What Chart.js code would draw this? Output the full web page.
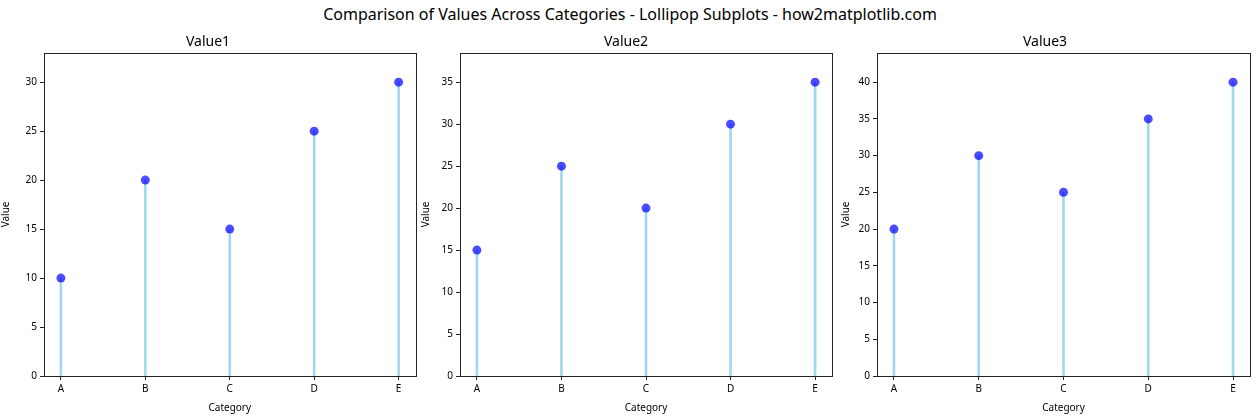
<!DOCTYPE html>
<html>
<head>
<meta charset="utf-8">
<script src="https://cdn.jsdelivr.net/npm/chart.js@4.4.1/dist/chart.umd.min.js"></script>
<style>
  body { margin: 0; background: #fff; width: 1260px; height: 420px; position: relative; overflow: hidden; font-family: "Noto Sans", sans-serif; }
  #suptitle { position: absolute; left: 0; top: 3px; width: 1260px; text-align: center; font-size: 16px; color: #000; }
  .box { position: absolute; top: 0; width: 420px; height: 420px; }
</style>
</head>
<body>
<div id="suptitle">Comparison of Values Across Categories - Lollipop Subplots - how2matplotlib.com</div>
<div class="box" style="left:0px"><canvas id="c1"></canvas></div>
<div class="box" style="left:420px"><canvas id="c2"></canvas></div>
<div class="box" style="left:840px"><canvas id="c3"></canvas></div>
<script>
const categories = ["A", "B", "C", "D", "E"];
const value1 = [10, 20, 15, 25, 30];
const value2 = [15, 25, 20, 30, 35];
const value3 = [20, 30, 25, 35, 40];
const yMax = [33, 38.5, 44];
const yTicks1 = [0, 5, 10, 15, 20, 25, 30];
const yTicks2 = [0, 5, 10, 15, 20, 25, 30, 35];
const yTicks3 = [0, 5, 10, 15, 20, 25, 30, 35, 40];

Chart.defaults.font.family = "'Noto Sans', sans-serif";
Chart.defaults.color = "#000";
Chart.defaults.animation = false;

// matplotlib style frame around the plot area
const frame = {
  id: "frame",
  afterDraw(chart) {
    const a = chart.chartArea, ctx = chart.ctx;
    ctx.save();
    ctx.strokeStyle = "#222";
    ctx.lineWidth = 1;
    ctx.strokeRect(Math.round(a.left) + 0.5, Math.round(a.top) + 0.5,
                   Math.round(a.right - a.left), Math.round(a.bottom - a.top));
    ctx.restore();
  }
};

function lollipop(id, title, values, max, ticks, yWidth, padRight) {
  const pts = values.map((v, i) => ({ x: i, y: v }));
  new Chart(document.getElementById(id), {
    type: "bar",
    data: {
      datasets: [
        {
          type: "scatter",
          data: pts,
          pointRadius: 4.5,
          pointBackgroundColor: "rgba(0, 0, 255, 0.7)",
          pointBorderWidth: 0,
          order: 0
        },
        {
          data: pts,
          backgroundColor: "rgba(135, 206, 235, 0.8)",
          barThickness: 2,
          grouped: false,
          order: 1
        }
      ]
    },
    options: {
      responsive: true,
      maintainAspectRatio: false,
      layout: { padding: { top: 26, right: padRight, bottom: 6, left: 0 } },
      plugins: {
        legend: { display: false },
        tooltip: { enabled: false },
        title: {
          display: true,
          text: title,
          color: "#000",
          font: { size: 14, weight: "normal" },
          padding: { top: 8, bottom: 2 }
        }
      },
      scales: {
        x: {
          type: "linear",
          min: -0.2,
          max: 4.2,
          offset: false,
          afterBuildTicks: (s) => { s.ticks = categories.map((c, i) => ({ value: i })); },
          afterFit: (s) => { s.height = 38; },
          ticks: {
            callback: (v) => categories[v],
            font: { size: 10 },
            padding: 3,
            maxRotation: 0
          },
          grid: { offset: false, drawOnChartArea: false, drawTicks: true, tickLength: 4, color: "#222" },
          border: { display: false },
          title: { display: true, text: "Category", font: { size: 10 }, padding: { top: 2, bottom: 0 } }
        },
        y: {
          min: 0,
          max: max,
          afterBuildTicks: (s) => { s.ticks = ticks.map((t) => ({ value: t })); },
          afterFit: (s) => { s.width = yWidth; },
          ticks: { font: { size: 10 }, padding: 3 },
          grid: { drawOnChartArea: false, drawTicks: true, tickLength: 4, color: "#222" },
          border: { display: false },
          title: { display: true, text: "Value", font: { size: 10 }, padding: { top: 0, bottom: 2 } }
        }
      }
    },
    plugins: [frame]
  });
}

lollipop("c1", "Value1", value1, yMax[0], yTicks1, 44, 4);
lollipop("c2", "Value2", value2, yMax[1], yTicks2, 40, 8);
lollipop("c3", "Value3", value3, yMax[2], yTicks3, 37, 10);
</script>
</body>
</html>
